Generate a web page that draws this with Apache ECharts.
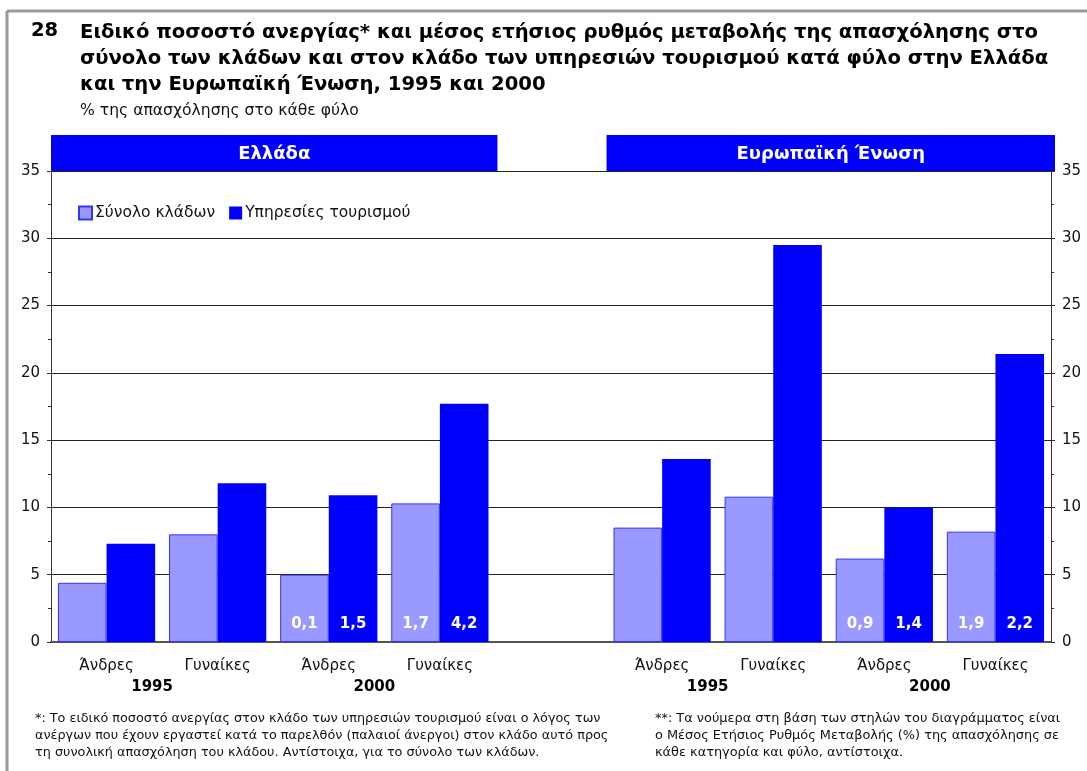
<!DOCTYPE html>
<html>
<head>
<meta charset="utf-8">
<script src="https://cdn.jsdelivr.net/npm/echarts@6/dist/echarts.min.js"></script>
<style>
  html, body { margin: 0; padding: 0; background: #fff; }
  #chart { width: 1087px; height: 771px; }
</style>
</head>
<body>
<div id="chart"></div>
<script>
// Categories: men/women for 1995 and 2000, Greece (0-3), blank spacer (4), EU (5-8)
const categories = ['Άνδρες', 'Γυναίκες', 'Άνδρες', 'Γυναίκες', '', 'Άνδρες', 'Γυναίκες', 'Άνδρες', 'Γυναίκες'];
const years = ['1995', '2000', '1995', '2000'];
const yearPairs = [[0, 1], [2, 3], [5, 6], [7, 8]];
const panels = ['Ελλάδα', 'Ευρωπαϊκή Ένωση'];
const panelRanges = [[0, 3], [5, 8]];

// Specific unemployment rate (%)
const totalSectors = [4.4, 8.0, 5.0, 10.3, null, 8.5, 10.8, 6.2, 8.2];
const tourismServices = [7.3, 11.8, 10.9, 17.7, null, 13.6, 29.5, 10.0, 21.4];

// Average annual employment change (%), shown at the foot of the 2000 bars
const changeTotal = [null, null, '0,1', '1,7', null, null, null, '0,9', '1,9'];
const changeTourism = [null, null, '1,5', '4,2', null, null, null, '1,4', '2,2'];

const yTicks = [0, 5, 10, 15, 20, 25, 30, 35];

const FONT = 'DejaVu Sans';
const chart = echarts.init(document.getElementById('chart'), null, { renderer: 'canvas' });

const valueLabel = (arr) => ({
  show: true,
  position: 'insideBottom',
  distance: 10,
  color: '#ffffff',
  fontFamily: FONT,
  fontWeight: 'bold',
  fontSize: 15,
  formatter: (p) => arr[p.dataIndex] || ''
});

const yAxisBase = {
  type: 'value',
  min: yTicks[0],
  max: yTicks[yTicks.length - 1],
  interval: 5,
  axisLine: { show: true, lineStyle: { color: '#333', width: 1 } },
  axisTick: { show: true, inside: false, length: 4, lineStyle: { color: '#333' } },
  minorTick: { show: true, splitNumber: 2, length: 3, lineStyle: { color: '#333' } },
  axisLabel: { fontFamily: FONT, fontSize: 15, color: '#111', margin: 11 }
};

chart.setOption({
  animation: false,
  backgroundColor: '#ffffff',
  textStyle: { fontFamily: FONT },
  grid: { left: 51, right: 36, top: 171, bottom: 129, containLabel: false },
  legend: {
    left: 73, top: 200,
    itemWidth: 13, itemHeight: 13, itemGap: 14,
    icon: 'rect',
    textStyle: { fontFamily: FONT, fontSize: 15.5, color: '#111', padding: [0, 0, 0, -2] },
    data: ['Σύνολο κλάδων', 'Υπηρεσίες τουρισμού']
  },
  xAxis: {
    type: 'category',
    data: categories,
    axisLine: { show: true, onZero: true, lineStyle: { color: '#555', width: 2 } },
    axisTick: { show: false },
    axisLabel: { fontFamily: FONT, fontSize: 15, color: '#111', margin: 17, interval: 0 }
  },
  yAxis: [
    Object.assign({}, yAxisBase, {
      position: 'left',
      splitLine: { show: true, lineStyle: { color: '#222', width: 1 } }
    }),
    Object.assign({}, yAxisBase, {
      position: 'right',
      splitLine: { show: false }
    })
  ],
  series: [
    {
      name: 'Σύνολο κλάδων',
      type: 'bar',
      data: totalSectors,
      barGap: '0%',
      barCategoryGap: '12.5%',
      itemStyle: { color: '#9999ff', borderColor: '#3333ff', borderWidth: 1 },
      label: valueLabel(changeTotal)
    },
    {
      name: 'Υπηρεσίες τουρισμού',
      type: 'bar',
      data: tourismServices,
      barGap: '0%',
      barCategoryGap: '12.5%',
      itemStyle: { color: '#0000ff' },
      label: valueLabel(changeTourism)
    }
  ]
});

// Headings, panel captions, year captions and footnotes placed from the chart's own scales
function buildGraphics() {
  const cx = (i) => chart.convertToPixel({ xAxisIndex: 0 }, i);
  const band = cx(1) - cx(0);
  const yTop = chart.convertToPixel({ yAxisIndex: 0 }, 35);
  const elements = [];

  // Frame lines
  elements.push({ type: 'line', shape: { x1: 7, y1: 11, x2: 1087, y2: 11 }, style: { stroke: '#9a9a9a', lineWidth: 3 } });
  elements.push({ type: 'line', shape: { x1: 7, y1: 11, x2: 7, y2: 771 }, style: { stroke: '#9a9a9a', lineWidth: 3 } });

  // Title
  elements.push({ type: 'text', left: 31, top: 21, style: { text: '28', font: 'bold 19.5px ' + FONT, fill: '#000' } });
  elements.push({
    type: 'text', left: 80, top: 20,
    style: {
      text: 'Ειδικό ποσοστό ανεργίας* και μέσος ετήσιος ρυθμός μεταβολής της απασχόλησης στο\n' +
            'σύνολο των κλάδων και στον κλάδο των υπηρεσιών τουρισμού κατά φύλο στην Ελλάδα\n' +
            'και την Ευρωπαϊκή Ένωση, 1995 και 2000',
      font: 'bold 19.6px ' + FONT, fill: '#000', lineHeight: 26
    }
  });
  elements.push({ type: 'text', left: 80, top: 103, style: { text: '% της απασχόλησης στο κάθε φύλο', font: '15.6px ' + FONT, fill: '#111' } });

  // Panel captions
  panelRanges.forEach((r, k) => {
    const x0 = cx(r[0]) - band / 2;
    const x1 = cx(r[1]) + band / 2 + (k === 1 ? 4 : 2);
    elements.push({
      type: 'rect',
      shape: { x: x0, y: yTop - 36, width: x1 - x0, height: 36 },
      style: { fill: '#0000ff' }
    });
    elements.push({
      type: 'text', x: (x0 + x1) / 2, y: yTop - 17,
      style: { text: panels[k], font: 'bold 18px ' + FONT, fill: '#fff', align: 'center', verticalAlign: 'middle' }
    });
  });

  // Year captions under each pair of categories
  const yBase = chart.convertToPixel({ yAxisIndex: 0 }, 0);
  yearPairs.forEach((p, k) => {
    elements.push({
      type: 'text', x: (cx(p[0]) + cx(p[1])) / 2 - 10, y: yBase + 45,
      style: { text: years[k], font: 'bold 15px ' + FONT, fill: '#000', align: 'center', verticalAlign: 'middle' }
    });
  });

  // Footnotes
  elements.push({
    type: 'text', left: 35, top: 710,
    style: {
      text: '*: Το ειδικό ποσοστό ανεργίας στον κλάδο των υπηρεσιών τουρισμού είναι ο λόγος των\n' +
            'ανέργων που έχουν εργαστεί κατά το παρελθόν (παλαιοί άνεργοι) στον κλάδο αυτό προς\n' +
            'τη συνολική απασχόληση του κλάδου. Αντίστοιχα, για το σύνολο των κλάδων.',
      font: '12.8px ' + FONT, fill: '#111', lineHeight: 17
    }
  });
  elements.push({
    type: 'text', left: 655, top: 710,
    style: {
      text: '**: Τα νούμερα στη βάση των στηλών του διαγράμματος είναι\n' +
            'ο Μέσος Ετήσιος Ρυθμός Μεταβολής (%) της απασχόλησης σε\n' +
            'κάθε κατηγορία και φύλο, αντίστοιχα.',
      font: '12.9px ' + FONT, fill: '#111', lineHeight: 17
    }
  });

  chart.setOption({ graphic: { elements: elements } });
}
buildGraphics();
</script>
</body>
</html>
